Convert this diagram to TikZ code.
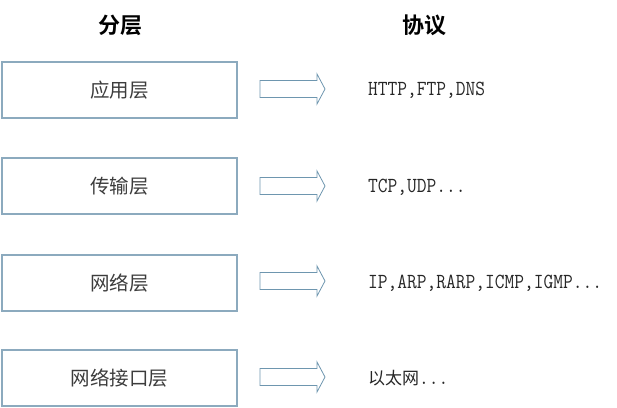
\documentclass[tikz,border=0pt]{standalone}
\usepackage{fontspec}
\newfontfamily\cjk{Noto Sans CJK SC}
\newfontfamily\cjkb{Noto Sans CJK SC Bold}
\newfontfamily\monof[FakeStretch=0.88]{Latin Modern Mono}
\definecolor{boxline}{RGB}{140,170,190}
\definecolor{arrline}{RGB}{110,150,175}
\definecolor{txt}{RGB}{60,60,60}
\begin{document}
\begin{tikzpicture}[x=1pt,y=-1pt,
  layerbox/.style={draw=boxline,line width=1.2pt,minimum width=235pt,minimum height=56pt,inner sep=0pt,font=\cjk\fontsize{19.5}{19.5}\selectfont,text=txt},
  bigarrow/.style={draw=arrline,line width=0.8pt,line join=miter},
  proto/.style={anchor=west,inner sep=0pt,text=black!85,font=\monof\fontsize{21.5}{21.5}\selectfont},
  head/.style={font=\cjkb\fontsize{22}{22}\selectfont}]
\useasboundingbox (0,0) rectangle (617,407);
\node[head] (h1) at (120,25) {分层};
\node[head] (h2) at (424,25) {协议};
\node[layerbox] (b1) at (119.5,90) {应用层};
\node[layerbox] (b2) at (119.5,186) {传输层};
\node[layerbox] (b3) at (119.5,283) {网络层};
\node[layerbox] (b4) at (119.5,378) {网络接口层};
\foreach \c in {89,186,281,377}{
  \draw[bigarrow] (260,\c-8.5) -- (317,\c-8.5) -- (317,\c-15) -- (325,\c) -- (317,\c+15) -- (317,\c+8.5) -- (260,\c+8.5) -- cycle;
}
\node[proto] (p1) at (368,90) {HTTP,FTP,DNS};
\node[proto] (p2) at (368,187) {TCP,UDP...};
\node[proto] (p3) at (368,283) {IP,ARP,RARP,ICMP,IGMP...};
\node[proto] (p4) at (368,378) {{\cjk\fontsize{17}{17}\selectfont 以太网}...};
\end{tikzpicture}
\end{document}
